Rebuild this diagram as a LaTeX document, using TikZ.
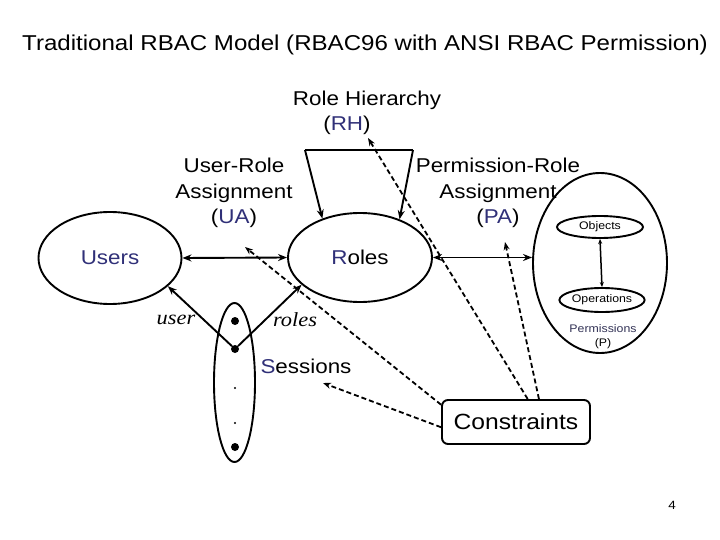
\documentclass[tikz,border=0pt]{standalone}
\usepackage{fontspec}
\setmainfont{Liberation Sans}[FakeStretch=1.12]
\newfontfamily\timesf{Liberation Serif}[FakeStretch=1.12]
\usetikzlibrary{shapes.geometric,arrows.meta,calc}
\definecolor{nv}{RGB}{48,48,120}
\definecolor{nvg}{RGB}{50,50,85}
\begin{document}
\begin{tikzpicture}[x=1pt,y=-1pt,
  ell/.style={draw,ellipse,line width=1.9pt,inner sep=0pt},
  ln/.style={line width=1.9pt},
  arr/.style={ln,-{Stealth[length=9pt,width=7pt]}},
  darr/.style={ln,{Stealth[length=9pt,width=7pt]}-{Stealth[length=9pt,width=7pt]}},
  sarr/.style={line width=1.5pt,{Stealth[length=5pt,width=4pt]}-{Stealth[length=5pt,width=4pt]}},
  dsh/.style={line width=1.8pt,dash pattern=on 5pt off 3pt,-{Stealth[length=8pt,width=6pt]}},
  big/.style={font=\fontsize{20}{25.5}\selectfont,align=center},
  sm/.style={font=\fontsize{11}{14}\selectfont},
  dotn/.style={circle,fill,inner sep=0pt,minimum size=8pt},
  tdot/.style={circle,fill,inner sep=0pt,minimum size=2.2pt}]
\fill[white] (0,0) rectangle (720,540);
\useasboundingbox (0,0) rectangle (720,540);

% title
\node[font=\fontsize{21.5}{26}\selectfont] (title) at (365,45) {Traditional RBAC Model (RBAC96 with ANSI RBAC Permission)};

% labels
\node[big] (rht) at (367,100) {Role Hierarchy};
\node[big] (rh) at (347,125) {(\textcolor{nv}{RH})};
\node[big] (ua) at (234,193) {User-Role\\Assignment\\(\textcolor{nv}{UA})};
\node[big] (pa) at (498,193) {Permission-Role\\Assignment\\(\textcolor{nv}{PA})};

% main ellipses
\node[ell,big,minimum width=143pt,minimum height=92pt] (users) at (110,258) {\textcolor{nv}{Users}};
\node[ell,big,minimum width=144pt,minimum height=89pt] (roles) at (360,257.5) {\textcolor{nv}{R}oles};
\node[ell,minimum width=134pt,minimum height=180pt] (perm) at (600,263) {};
\node[ell,sm,minimum width=86pt,minimum height=22pt] (obj) at (600,227) {Objects};
\node[ell,sm,minimum width=79pt,minimum height=24pt] (ops) at (602,300) {Operations};
\node[sm,text=nvg] (pl) at (603,329) {Permissions};
\node[sm] (pp) at (603,344) {(P)};

% sessions
\node[ell,minimum width=41pt,minimum height=159pt] (sess) at (234.5,382.5) {};
\node[dotn] (d1) at (235,321) {};
\node[dotn] (d2) at (235,349) {};
\node[tdot] (d3) at (235,388) {};
\node[tdot] (d4) at (235,423) {};
\node[dotn] (d5) at (235,447) {};
\node[big] (sl) at (306,366) {\textcolor{nv}{S}essions};
\node[font=\timesf\itshape\fontsize{20}{24}\selectfont] (ul) at (176,320) {user};
\node[font=\timesf\itshape\fontsize{20}{24}\selectfont] (rl) at (295,320) {roles};

% constraints
\node[draw,line width=1.9pt,rounded corners=6pt,minimum width=148pt,minimum height=44pt,font=\fontsize{22}{26}\selectfont] (cons) at (516,422) {Constraints};

% page number
\node[font=\fontsize{12}{14}\selectfont] (pg) at (672,505) {4};

% role hierarchy trapezoid
\coordinate (tl) at (305,150);
\coordinate (tr) at (413,150);
\draw[ln] (tl) -- (tr);
\draw[arr] (tl) -- (roles.134);
\draw[arr] (tr) -- (roles.44);

% assignments
\draw[darr] (users.east) -- (roles.west);
\draw[darr] (roles.east) -- (roles.east -| perm.west);
\draw[sarr] (obj.south) -- (ops.north);

% session links
\draw[arr] (d2) -- (users.-26);
\draw[arr] (d2) -- (roles.205);

% constraint links
\coordinate (uaT) at (245,247);
\coordinate (sT) at (323,383);
\coordinate (rhT) at (368,138);
\coordinate (paT) at (505,242);
\draw[dsh] (cons.167) -- (uaT);
\draw[dsh] (cons.184) -- (sT);
\draw[dsh] (cons.63) -- (rhT);
\draw[dsh] (cons.45) -- (paT);
\end{tikzpicture}
\end{document}
